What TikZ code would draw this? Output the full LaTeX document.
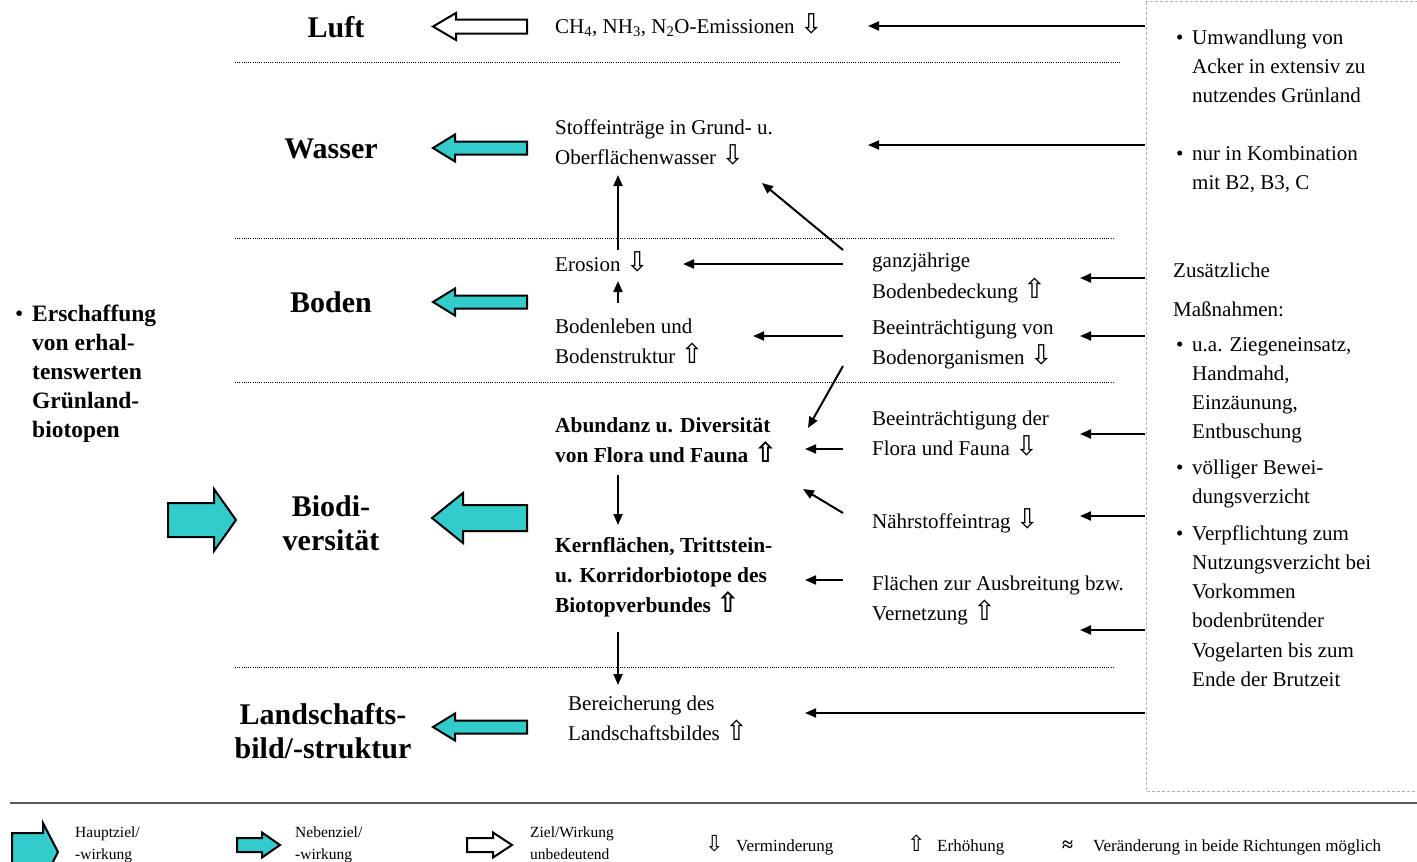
\documentclass[tikz,border=0pt]{standalone}
\usepackage{fontspec}
\setmainfont{Liberation Serif}
\newfontfamily\symf[Scale=1.3]{DejaVu Sans}
\usetikzlibrary{arrows.meta}
\definecolor{aqua}{RGB}{51,204,204}
\newcommand\arrdn{{\symf ⇩}}
\newcommand\arrup{{\symf ⇧}}
\newcommand\lns[1]{\begin{tabular}[t]{@{}l@{}}#1\end{tabular}}
\newcommand\clns[1]{\begin{tabular}[t]{@{}c@{}}#1\end{tabular}}
\newcommand\blt{\makebox[16pt][l]{\textbullet}}
\newcommand\blist[1]{\begin{tabular}[t]{@{}l@{}l@{}}#1\end{tabular}}
% tail x, head-base x, tip x, centre y, shaft half, head half
\newcommand\blockarrow[7][]{%
  \draw[bigarr,#1] (#2,{#5-#6}) -- (#3,{#5-#6}) -- (#3,{#5-#7}) -- (#4,#5)
    -- (#3,{#5+#7}) -- (#3,{#5+#6}) -- (#2,{#5+#6}) -- cycle;}
\begin{document}
\begin{tikzpicture}[x=1pt,y=-1pt,
  txt/.style={inner sep=0pt, anchor=base west, font=\fontsize{21}{30}\selectfont},
  btxt/.style={inner sep=0pt, anchor=base west, font=\fontsize{21.4}{30}\selectfont\bfseries},
  hdr/.style={inner sep=0pt, anchor=base, font=\fontsize{30}{34}\selectfont\bfseries},
  rtxt/.style={inner sep=0pt, anchor=base west, font=\fontsize{21}{29.3}\selectfont},
  lgd/.style={inner sep=0pt, anchor=base west, font=\fontsize{17}{22}\selectfont},
  lgds/.style={inner sep=0pt, anchor=base west, font=\fontsize{15.5}{22}\selectfont},
  arr/.style={line width=2pt, -{Triangle[length=11pt,width=9pt]}},
  sep/.style={line width=1pt, dash pattern=on 1pt off 1.2pt},
  bigarr/.style={draw=black, line width=2pt, line join=miter, fill=aqua},
  hollow/.style={fill=white},
]
\useasboundingbox (0,0) rectangle (1417,862);
\clip (0,0) rectangle (1417,862);

% right panel
\draw[gray!60, line width=1pt, dash pattern=on 3pt off 2pt] (1146,1.5) rectangle (1440,791);

% separators
\draw[sep] (235,62) -- (1120,62);
\draw[sep] (235,238) -- (1115,238);
\draw[sep] (235,382) -- (1115,382);
\draw[sep] (235,667) -- (1115,667);
\draw[gray!70!black, line width=2pt] (10,803) -- (1417,803);

% headers
\node[hdr] (luft) at (336,37) {Luft};
\node[hdr] (wasser) at (331,158) {Wasser};
\node[hdr] (boden) at (331,312) {Boden};
\node[hdr] (bio) at (331,516) {\clns{Biodi-\\versität}};
\node[hdr] (land) at (323,724) {\clns{Landschafts-\\bild/-struktur}};

% left goal
\node[inner sep=0pt, anchor=base west, font=\fontsize{23.5}{29}\selectfont\bfseries] (ziel) at (15,321)
  {\blist{\makebox[17pt][l]{\mdseries\textbullet}&Erschaffung\\&von erhal-\\&tenswerten\\&Grünland-\\&biotopen}};

% block arrows
\blockarrow[hollow]{527}{456}{433}{26.5}{7}{13.5}
\blockarrow{527}{455}{433}{148}{6.5}{13.5}
\blockarrow{527}{455}{433}{302}{6.5}{13.5}
\blockarrow{527}{463}{432}{518}{13}{25}
\blockarrow{527}{455}{433}{727}{6.5}{13.5}
\blockarrow{168}{214}{236}{520}{17}{31}

% middle column
\node[txt] (emis) at (555,33) {CH\textsubscript{4}, NH\textsubscript{3}, N\textsubscript{2}O-Emissionen \arrdn};
\node[txt] (stoff) at (555,134) {\lns{Stoffeinträge in Grund- u.\\Oberflächenwasser \arrdn}};
\node[txt] (eros) at (555,271) {Erosion \arrdn};
\node[txt] (bleben) at (555,333) {\lns{Bodenleben und\\Bodenstruktur \arrup}};
\node[btxt] (abund) at (555,432) {\lns{Abundanz u. Diversität\\von Flora und Fauna \arrup}};
\node[btxt] (kern) at (555,552) {\lns{Kernflächen, Trittstein-\\u. Korridorbiotope des\\Biotopverbundes \arrup}};
\node[txt] (ber) at (568,710) {\lns{Bereicherung des\\Landschaftsbildes \arrup}};

% right-middle column
\node[txt] (ganz) at (872,267) {\lns{ganzjährige\\[1pt]Bodenbedeckung \arrup}};
\node[txt] (beeb) at (872,334) {\lns{Beeinträchtigung von\\Bodenorganismen \arrdn}};
\node[txt] (beef) at (872,425) {\lns{Beeinträchtigung der\\Flora und Fauna \arrdn}};
\node[txt] (naehr) at (872,528) {Nährstoffeintrag \arrdn};
\node[txt] (flae) at (872,590) {\lns{Flächen zur Ausbreitung bzw.\\Vernetzung \arrup}};

% right panel text
\node[rtxt] (m1) at (1176,44) {\blist{\blt&Umwandlung von\\&Acker in extensiv zu\\&nutzendes Grünland}};
\node[rtxt] (m2) at (1176,160) {\blist{\blt&nur in Kombination\\&mit B2, B3, C}};
\node[rtxt] (zus) at (1173,277) {Zusätzliche};
\node[rtxt] (mass) at (1173,316) {Maßnahmen:};
\node[rtxt] (m3) at (1176,351) {\blist{\blt&u.a. Ziegeneinsatz,\\&Handmahd,\\&Einzäunung,\\&Entbuschung}};
\node[rtxt] (m4) at (1176,474) {\blist{\blt&völliger Bewei-\\&dungsverzicht}};
\node[rtxt] (m5) at (1176,540) {\blist{\blt&Verpflichtung zum\\&Nutzungsverzicht bei\\&Vorkommen\\&bodenbrütender\\&Vogelarten bis zum\\&Ende der Brutzeit}};

% connector end points
\coordinate (pE) at (1145,26);  \coordinate (tE) at (868,26);
\coordinate (pW) at (1145,145); \coordinate (tW) at (868,145);
\coordinate (pG) at (1145,278); \coordinate (tG) at (1080,278);
\coordinate (pB) at (1145,336); \coordinate (tB) at (1080,336);
\coordinate (pF) at (1145,434); \coordinate (tF) at (1080,434);
\coordinate (pN) at (1145,516); \coordinate (tN) at (1080,516);
\coordinate (pV) at (1145,630); \coordinate (tV) at (1080,630);
\coordinate (pL) at (1145,713); \coordinate (tL) at (805,713);

\draw[arr] (pE) -- (tE);
\draw[arr] (pW) -- (tW);
\draw[arr] (pG) -- (tG);
\draw[arr] (pB) -- (tB);
\draw[arr] (pF) -- (tF);
\draw[arr] (pN) -- (tN);
\draw[arr] (pV) -- (tV);
\draw[arr] (pL) -- (tL);

% internal connectors
\coordinate (g1) at (843,264); \coordinate (e1) at (683,264);
\coordinate (g2) at (843,250); \coordinate (s2) at (762,183);
\coordinate (e3) at (618,250); \coordinate (s3) at (618,175);
\coordinate (b4) at (618,303); \coordinate (e4) at (618,281);
\coordinate (o5) at (843,336); \coordinate (b5) at (753,336);
\coordinate (o6) at (843,366); \coordinate (a6) at (808,428);
\coordinate (f7) at (843,449); \coordinate (a7) at (805,449);
\coordinate (n8) at (843,513); \coordinate (a8) at (803,489);
\coordinate (a9) at (618,475); \coordinate (k9) at (618,525);
\coordinate (v10) at (843,580); \coordinate (k10) at (805,580);
\coordinate (k11) at (618,632); \coordinate (l11) at (618,685);

\draw[arr] (g1) -- (e1);
\draw[arr] (g2) -- (s2);
\draw[arr] (e3) -- (s3);
\draw[arr] (b4) -- (e4);
\draw[arr] (o5) -- (b5);
\draw[arr] (o6) -- (a6);
\draw[arr] (f7) -- (a7);
\draw[arr] (n8) -- (a8);
\draw[arr] (a9) -- (k9);
\draw[arr] (v10) -- (k10);
\draw[arr] (k11) -- (l11);

% legend
\blockarrow{12}{43}{58}{852}{19}{29}
\node[lgds] (lg1) at (75,837) {\lns{Hauptziel/\\-wirkung}};
\blockarrow{237}{262}{280}{845}{7}{12.5}
\node[lgds] (lg2) at (295,837) {\lns{Nebenziel/\\-wirkung}};
\blockarrow[hollow]{467}{493}{512}{845}{7}{12.5}
\node[lgds] (lg3) at (530,837) {\lns{Ziel/Wirkung\\unbedeutend}};
\node[lgd] (lg4s) at (705,851) {\arrdn};
\node[lgd] (lg4) at (736,851) {Verminderung};
\node[lgd] (lg5s) at (907,851) {\arrup};
\node[lgd] (lg5) at (937,851) {Erhöhung};
\node[lgd, font=\fontsize{20}{22}\selectfont\bfseries] (lg6s) at (1062,851) {≈};
\node[lgd] (lg6) at (1093,851) {Veränderung in beide Richtungen möglich};
\end{tikzpicture}
\end{document}
